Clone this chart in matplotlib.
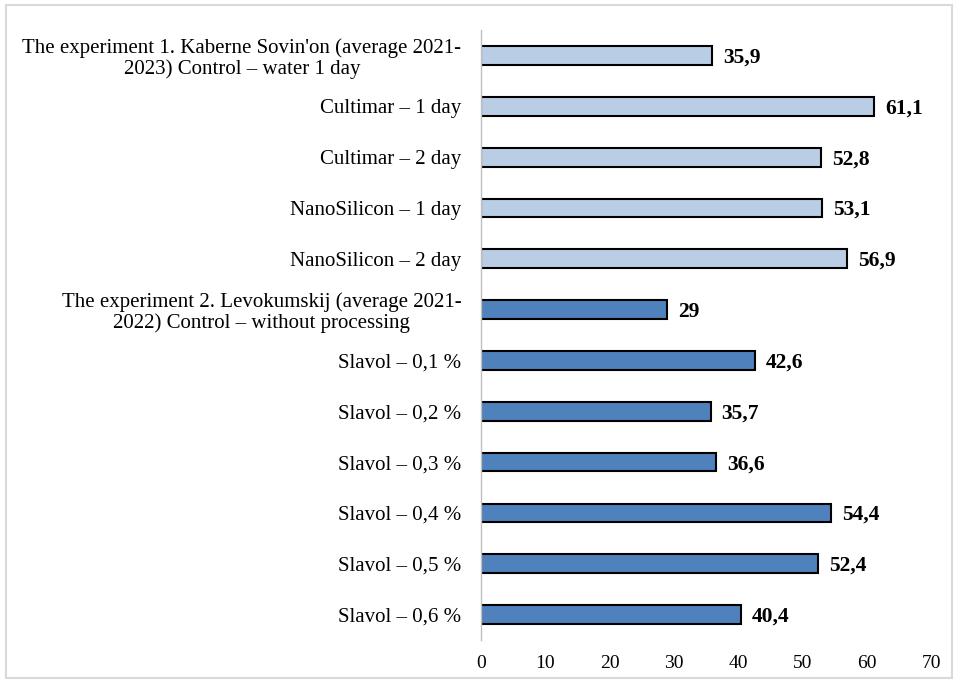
import matplotlib
matplotlib.use("Agg")
import matplotlib.pyplot as plt
from matplotlib.patches import Rectangle

# ── data ────────────────────────────────────────────────────────────────
CATEGORIES = [
    "The experiment 1. Kaberne Sovin'on (average 2021-\n2023) Control \u2013 water 1 day",
    "Cultimar \u2013 1 day",
    "Cultimar \u2013 2 day",
    "NanoSilicon \u2013 1 day",
    "NanoSilicon \u2013 2 day",
    "The experiment 2. Levokumskij (average 2021-\n2022) Control \u2013 without processing",
    "Slavol \u2013 0,1 %",
    "Slavol \u2013 0,2 %",
    "Slavol \u2013 0,3 %",
    "Slavol \u2013 0,4 %",
    "Slavol \u2013 0,5 %",
    "Slavol \u2013 0,6 %",
]
VALUES = [35.9, 61.1, 52.8, 53.1, 56.9, 29.0, 42.6, 35.7, 36.6, 54.4, 52.4, 40.4]
GROUP = [1, 1, 1, 1, 1, 2, 2, 2, 2, 2, 2, 2]
XTICKS = [0, 10, 20, 30, 40, 50, 60, 70]

LIGHT = "#B9CDE5"
DARK = "#4F81BD"
AXIS_GREY = "#BFBFBF"

plt.rcParams["font.family"] = ["Liberation Serif", "DejaVu Serif"]

fig = plt.figure(figsize=(9.58, 6.83), dpi=100)
ax = fig.add_axes([0.502, 0.063, 0.470, 0.893])

ypos = list(range(len(CATEGORIES)))
colors = [LIGHT if g == 1 else DARK for g in GROUP]
ax.barh(ypos, VALUES, height=0.37, color=colors, edgecolor="black", linewidth=1.5)

for y, v in zip(ypos, VALUES):
    txt = f"{v:g}".replace(".", ",")
    ax.annotate(txt, (v, y), xytext=(8, -1.5), textcoords="offset points",
                ha="left", va="center", fontsize=15.5, fontweight="bold")

ax.set_xlim(0, 70)
ax.set_ylim(len(CATEGORIES) - 0.5, -0.5)
ax.set_xticks(XTICKS)
ax.set_yticks(ypos)
ax.set_yticklabels(CATEGORIES, fontsize=15, linespacing=1.1)
for lab in ax.get_yticklabels():
    lab.set_multialignment("center")
ax.tick_params(axis="x", length=0, labelsize=14, pad=11)
ax.tick_params(axis="y", length=0, pad=14)

for side in ["top", "right", "bottom"]:
    ax.spines[side].set_visible(False)
ax.spines["left"].set_color(AXIS_GREY)
ax.spines["left"].set_linewidth(1.0)

# light frame around the whole chart
fig.patches.append(Rectangle((0.006, 0.008), 0.988, 0.985, transform=fig.transFigure,
                             fill=False, edgecolor="#D9D9D9", linewidth=1.5))

fig.savefig("out.png", dpi=100)
